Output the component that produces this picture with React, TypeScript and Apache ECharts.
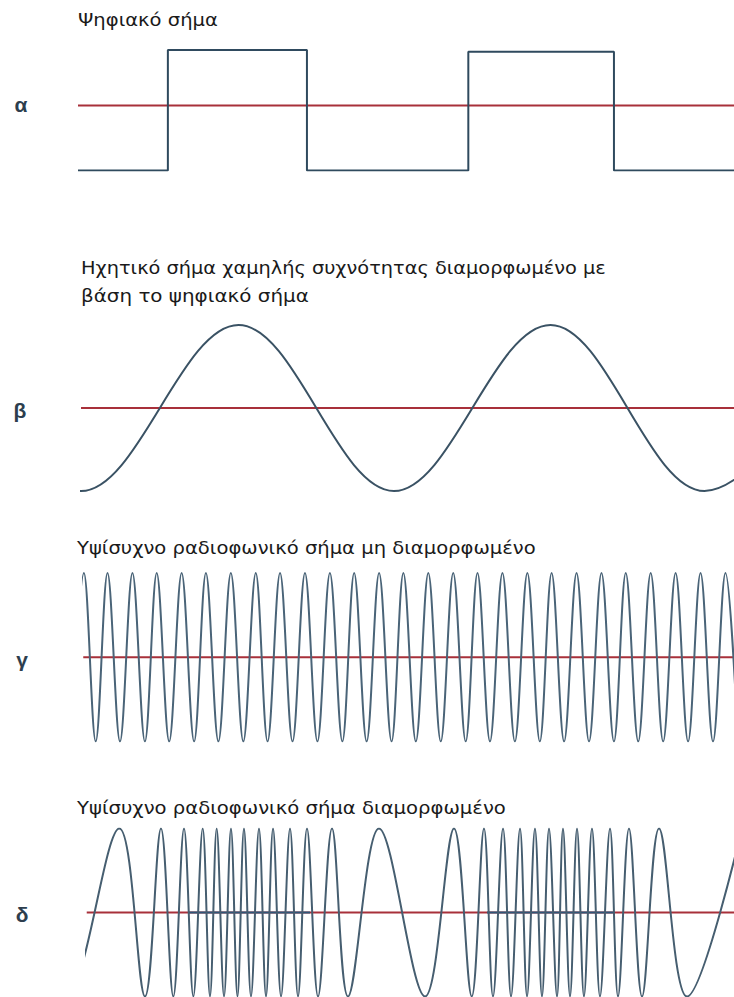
import React, { useEffect, useRef } from "react";
import * as echarts from "echarts";

// Time axis in arbitrary units (0 … 100 across the visible width)
const T_MAX = 100;

// α – digital signal (step starts and levels)
const digitalTimes = [0, 13.7, 34.9, 59.5, 81.7, 100];
const digitalLevels = [-1, 1, -1, 0.97, -1, -1];
const digitalThreshold = 0.08;

// β – low-frequency audio signal (extremes; first and last are estimated just outside the view)
const audioTimes = [-23.5, 0.46, 24.47, 48.17, 72.03, 95.5, 119.4];
const audioValues = [1, -1, 1, -1, 1, -1, 1];

// γ – unmodulated carrier (peaks / troughs)
const carrierPeaks = [0.9, 4.5, 8.3, 12.0, 15.8, 19.5, 23.3, 27.1, 30.8, 34.6, 38.4, 42.1, 45.9, 49.6, 53.4, 57.2, 60.9, 64.7, 68.5, 72.2, 76.0, 79.8, 83.5, 87.3, 91.1, 94.9, 98.7];
const carrierTroughs = [-1.0, 2.7, 6.4, 10.2, 13.9, 17.7, 21.4, 25.2, 28.9, 32.7, 36.5, 40.3, 44.0, 47.8, 51.5, 55.3, 59.1, 62.8, 66.6, 70.4, 74.1, 77.9, 81.7, 85.4, 89.2, 93.0, 96.8, 100.6];

// δ – modulated carrier (extremes; first two and last are estimated outside the view)
const fmTimes = [-10.5, -1.85, 6.3, 10.21, 12.65, 14.53, 16.16, 17.58, 19.01, 20.12, 21.14, 22.26, 23.32, 24.31, 25.3, 26.37, 27.59, 28.66, 29.73, 30.95, 32.32, 33.54, 34.91, 36.59, 38.72, 41.16, 45.88, 52.9, 57.32, 60.02, 61.89, 63.26, 64.79, 66.01, 67.38, 68.45, 69.66, 70.73, 71.8, 73.02, 73.93, 75.0, 76.07, 77.13, 78.35, 79.57, 81.1, 82.32, 83.99, 85.98, 88.57, 92.84, 101.2];
const fmValues = [1, -1, 1, -1, 1, -1, 1, -1, 1, -1, 1, -1, 1, -1, 1, -1, 1, -1, 1, -1, 1, -1, 1, -1, 1, -1, 1, -1, 1, -1, 1, -1, 1, -1, 1, -1, 1, -1, 1, -1, 1, -1, 1, -1, 1, -1, 1, -1, 1, -1, 1, -1, 1];
// dense (high-frequency) sections of δ
const fmDenseSpans = [
  [16.77, 35.37],
  [62.35, 81.55],
];

// visible start time of each panel
const panelStarts = [0, 0.46, 0.8, 1.33];

const panelLetters = ["α", "β", "γ", "δ"];
const titleLines = [
  "Ψηφιακό σήμα",
  "Ηχητικό σήμα χαμηλής συχνότητας διαμορφωμένο με",
  "βάση το ψηφιακό σήμα",
  "Υψίσυχνο ραδιοφωνικό σήμα μη διαμορφωμένο",
  "Υψίσυχνο ραδιοφωνικό σήμα διαμορφωμένο",
];

// layout
const GRID_LEFT = 78;
const PX_PER_T = 6.56;
const grids = [
  { top: 50, height: 120.5 },
  { top: 325, height: 166 },
  { top: 573, height: 168.5 },
  { top: 828.5, height: 168 },
];
const titleLayout = [
  { x: 78, y: 20, w: 140 },
  { x: 81, y: 268, w: 525 },
  { x: 81, y: 296, w: 228 },
  { x: 77, y: 548, w: 459 },
  { x: 77, y: 808, w: 429 },
];
const letterLayout = [
  { x: 21, y: 104 },
  { x: 20, y: 410 },
  { x: 22, y: 659 },
  { x: 22, y: 914 },
];

const SIGNAL_COLORS = ["#2f4a5e", "#3a5264", "#4a6478", "#465e70"];
const DENSE_COLOR = "#1f4c74";
const RED = "#a8303a";
const TITLE_FONT = "'DejaVu Sans', sans-serif";
const TITLE_SIZE = 17;

function measure(text: string, size: number, family: string) {
  const c = document.createElement("canvas").getContext("2d");
  if (!c) return text.length * size * 0.55;
  c.font = `${size}px ${family}`;
  return c.measureText(text).width;
}

export default function App() {
  const ref = useRef<HTMLDivElement>(null);

  useEffect(() => {
    if (!ref.current) return;
    const chart = echarts.init(ref.current, null, { renderer: "svg" });

    const digitalData = digitalTimes.map((t, i) => [t, digitalLevels[i]]);
    const audioData = audioTimes.map((t, i) => [t, audioValues[i]]);
    const carrierData = [
      ...carrierPeaks.map((t) => [t, 1]),
      ...carrierTroughs.map((t) => [t, -1]),
    ].sort((a, b) => a[0] - b[0]);
    const fmData = fmTimes.map((t, i) => [t, fmValues[i]]);

    const mid = (idx: number, level: number) => ({
      type: "line",
      xAxisIndex: idx,
      yAxisIndex: idx,
      data: [
        [panelStarts[idx], level],
        [T_MAX, level],
      ],
      symbol: "none",
      silent: true,
      z: 1,
      lineStyle: { color: RED, width: 2 },
    });

    const sig = (idx: number, data: number[][], extra: any = {}) => ({
      type: "line",
      xAxisIndex: idx,
      yAxisIndex: idx,
      data,
      symbol: "none",
      silent: true,
      clip: true,
      z: 3,
      lineStyle: { color: SIGNAL_COLORS[idx], width: 2 },
      ...extra,
    });

    const series: any[] = [
      mid(0, digitalThreshold),
      sig(0, digitalData, { step: "end" }),
      mid(1, 0),
      sig(1, audioData, { smooth: 0.36 }),
      mid(2, 0),
      sig(2, carrierData, { smooth: 0.36 }),
      mid(3, 0),
      ...fmDenseSpans.map((s) => ({
        type: "line",
        xAxisIndex: 3,
        yAxisIndex: 3,
        data: [
          [s[0], 0],
          [s[1], 0],
        ],
        symbol: "none",
        silent: true,
        z: 2,
        lineStyle: { color: "#2f5577", width: 2 },
      })),
      sig(3, fmData, { smooth: 0.36 }),
    ];
    const fmSeriesIndex = series.length - 1;

    const sparse = SIGNAL_COLORS[3];
    const pieces = [
      { lt: fmDenseSpans[0][0], color: sparse },
      { gte: fmDenseSpans[0][0], lt: fmDenseSpans[0][1], color: DENSE_COLOR },
      { gte: fmDenseSpans[0][1], lt: fmDenseSpans[1][0], color: sparse },
      { gte: fmDenseSpans[1][0], lt: fmDenseSpans[1][1], color: DENSE_COLOR },
      { gte: fmDenseSpans[1][1], color: sparse },
    ];

    const graphic: any[] = [];
    titleLines.forEach((text, i) => {
      const l = titleLayout[i];
      const w = measure(text, TITLE_SIZE, TITLE_FONT);
      graphic.push({
        type: "text",
        x: l.x,
        y: l.y,
        scaleX: l.w / w,
        silent: true,
        style: {
          text,
          fill: "#1a1a1a",
          fontSize: TITLE_SIZE,
          fontFamily: TITLE_FONT,
          align: "left",
          verticalAlign: "middle",
        },
      });
    });
    panelLetters.forEach((text, i) => {
      const l = letterLayout[i];
      graphic.push({
        type: "text",
        x: l.x,
        y: l.y,
        silent: true,
        style: {
          text,
          fill: "#2d3e4e",
          fontSize: 21,
          fontWeight: "bold",
          fontFamily: "'Liberation Sans', Arial, sans-serif",
          align: "center",
          verticalAlign: "middle",
        },
      });
    });

    chart.setOption({
      animation: false,
      backgroundColor: "#ffffff",
      grid: grids.map((g, i) => ({
        left: GRID_LEFT + panelStarts[i] * PX_PER_T,
        right: 0,
        top: g.top,
        height: g.height,
        containLabel: false,
      })),
      xAxis: grids.map((_, i) => ({
        type: "value",
        gridIndex: i,
        min: panelStarts[i],
        max: T_MAX,
        show: false,
      })),
      yAxis: grids.map((_, i) => ({
        type: "value",
        gridIndex: i,
        min: -1,
        max: 1,
        show: false,
      })),
      visualMap: [
        {
          type: "piecewise",
          show: false,
          seriesIndex: fmSeriesIndex,
          dimension: 0,
          pieces,
        },
      ],
      series,
      graphic,
    });

    return () => chart.dispose();
  }, []);

  return (
    <div
      ref={ref}
      style={{ position: "fixed", left: 0, top: 0, width: 734, height: 997 }}
    />
  );
}
